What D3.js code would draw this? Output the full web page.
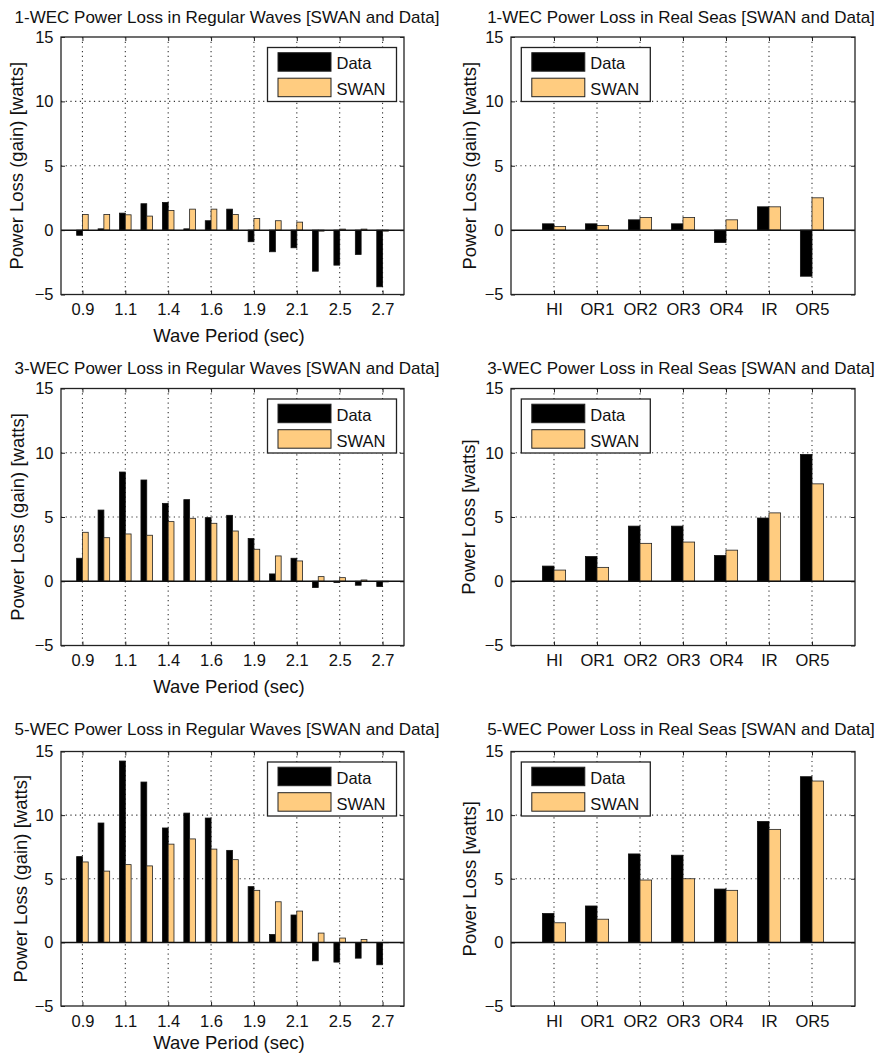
<!DOCTYPE html>
<html><head><meta charset="utf-8">
<script src="https://cdn.jsdelivr.net/npm/d3@7"></script>
<style>
body{margin:0;background:#fff}
svg{display:block}
text{font-family:"Liberation Sans",Arial,Helvetica,sans-serif;fill:#111}
</style>
</head><body>
<svg id="chart" width="884" height="1058"></svg>
<script>
// ---------------- data ----------------
const seriesNames = ["Data", "SWAN"];
// 15 regular-wave periods; only every other one is labelled on the axis
const periodTickLabels = ["0.9","","1.1","","1.4","","1.6","","1.9","","2.1","","2.5","","2.7"];
const seaStates = ["HI","OR1","OR2","OR3","OR4","IR","OR5"];
const yTicks = [-5, 0, 5, 10, 15];

const wec1RegularData = [-0.4, 0.1, 1.32, 2.05, 2.15, 0.1, 0.73, 1.63, -0.9, -1.68, -1.37, -3.19, -2.72, -1.89, -4.4];
const wec1RegularSwan = [1.22, 1.22, 1.19, 1.09, 1.53, 1.63, 1.63, 1.22, 0.9, 0.73, 0.62, -0.08, 0.08, 0.08, -0.08];
const wec3RegularData = [1.79, 5.54, 8.5, 7.88, 6.06, 6.35, 4.95, 5.13, 3.32, 0.57, 1.79, -0.49, -0.1, -0.31, -0.41];
const wec3RegularSwan = [3.81, 3.39, 3.68, 3.58, 4.64, 4.9, 4.51, 3.91, 2.49, 1.97, 1.58, 0.36, 0.28, 0.1, -0.05];
const wec5RegularData = [6.74, 9.38, 14.25, 12.6, 8.99, 10.16, 9.77, 7.23, 4.38, 0.62, 2.15, -1.45, -1.55, -1.24, -1.76];
const wec5RegularSwan = [6.32, 5.6, 6.11, 6.01, 7.72, 8.13, 7.33, 6.5, 4.09, 3.19, 2.46, 0.73, 0.34, 0.23, -0.03];

const wec1SeaData = [0.49, 0.49, 0.8, 0.49, -0.96, 1.81, -3.58];
const wec1SeaSwan = [0.28, 0.36, 0.98, 0.98, 0.8, 1.81, 2.51];
const wec3SeaData = [1.18, 1.92, 4.29, 4.29, 2.0, 4.92, 9.87];
const wec3SeaSwan = [0.87, 1.08, 2.95, 3.05, 2.42, 5.32, 7.58];
const wec5SeaData = [2.27, 2.86, 6.95, 6.85, 4.19, 9.5, 13.02];
const wec5SeaSwan = [1.54, 1.82, 4.9, 5.0, 4.09, 8.88, 12.68];

const titles = [
  ["1-WEC Power Loss in Regular Waves [SWAN and Data]", "1-WEC Power Loss in Real Seas [SWAN and Data]"],
  ["3-WEC Power Loss in Regular Waves [SWAN and Data]", "3-WEC Power Loss in Real Seas [SWAN and Data]"],
  ["5-WEC Power Loss in Regular Waves [SWAN and Data]", "5-WEC Power Loss in Real Seas [SWAN and Data]"]
];
const yLabels = [
  ["Power Loss (gain) [watts]", "Power Loss (gain) [watts]"],
  ["Power Loss (gain) [watts]", "Power Loss [watts]"],
  ["Power Loss (gain) [watts]", "Power Loss [watts]"]
];
const xLabel = "Wave Period (sec)";

// ---------------- layout ----------------
const colors = {data: "#000000", swan: "#FFCC80"};
const rows = [
  {top: 37,    bottom: 294.5, titleY: 22.7,  xlabY: 341.5, ylabX: [17, 470]},
  {top: 388.5, bottom: 645.5, titleY: 374,   xlabY: 693,   ylabX: [17.5, 468.7]},
  {top: 751.5, bottom: 1006,  titleY: 734.5, xlabY: 1049,  ylabX: [21, 469.5]}
];
const cols = [
  {left: 61,  right: 404, titleX: 227},
  {left: 511, right: 855, titleX: 681}
];

const panels = [
  {r:0, c:0, data: wec1RegularData, swan: wec1RegularSwan},
  {r:0, c:1, data: wec1SeaData,     swan: wec1SeaSwan},
  {r:1, c:0, data: wec3RegularData, swan: wec3RegularSwan},
  {r:1, c:1, data: wec3SeaData,     swan: wec3SeaSwan},
  {r:2, c:0, data: wec5RegularData, swan: wec5RegularSwan},
  {r:2, c:1, data: wec5SeaData,     swan: wec5SeaSwan}
];

const svg = d3.select("#chart");

panels.forEach(p => {
  const R = rows[p.r], C = cols[p.c];
  const isReg = p.c === 0;
  const n = isReg ? periodTickLabels.length : seaStates.length;
  const x = d3.scaleLinear().domain([-1, n]).range([C.left, C.right]);
  const y = d3.scaleLinear().domain([-5, 15]).range([R.bottom, R.top]);
  const bw = x(0.27) - x(0);
  const tickIdx = isReg ? d3.range(n).filter(i => periodTickLabels[i] !== "") : d3.range(n);
  const tickText = i => isReg ? periodTickLabels[i] : seaStates[i];

  const g = svg.append("g");

  // grid (below bars)
  const grid = g.append("g").attr("stroke", "#333").attr("stroke-width", 1.1)
    .attr("stroke-dasharray", "1.2,3.5").attr("fill", "none");
  grid.selectAll("line.v").data(tickIdx).join("line")
    .attr("x1", d => x(d)).attr("x2", d => x(d))
    .attr("y1", R.top).attr("y2", R.bottom);
  grid.selectAll("line.h").data(yTicks.filter(t => t !== -5 && t !== 15 && t !== 0)).join("line")
    .attr("x1", C.left).attr("x2", C.right)
    .attr("y1", d => y(d)).attr("y2", d => y(d));

  // axes ticks (inward) on all four sides
  const xb = d3.axisBottom(x).tickValues(tickIdx).tickFormat(tickText)
    .tickSizeInner(-4).tickSizeOuter(0).tickPadding(9);
  const xt = d3.axisTop(x).tickValues(tickIdx).tickFormat("")
    .tickSizeInner(-4).tickSizeOuter(0);
  const yl = d3.axisLeft(y).tickValues(yTicks).tickFormat(d3.format("d"))
    .tickSizeInner(-4).tickSizeOuter(0).tickPadding(7.5);
  const yr = d3.axisRight(y).tickValues(yTicks).tickFormat("")
    .tickSizeInner(-4).tickSizeOuter(0);

  const styleAxis = sel => {
    sel.select(".domain").remove();
    sel.selectAll(".tick line").attr("stroke", "#222").attr("stroke-width", 1);
    sel.selectAll(".tick text").attr("fill", "#111")
      .style("font-family", '"Liberation Sans",Arial,sans-serif').style("font-size", "16.5px");
  };
  g.append("g").attr("transform", `translate(0,${R.bottom})`).call(xb).call(styleAxis);
  g.append("g").attr("transform", `translate(0,${R.top})`).call(xt).call(styleAxis);
  g.append("g").attr("transform", `translate(${C.left},0)`).call(yl).call(styleAxis);
  g.append("g").attr("transform", `translate(${C.right},0)`).call(yr).call(styleAxis);

  // bars
  const idx = d3.range(n);
  g.append("g").selectAll("rect").data(idx).join("rect")
    .attr("x", i => x(i) - bw).attr("width", bw)
    .attr("y", i => y(Math.max(0, p.data[i])))
    .attr("height", i => Math.abs(y(p.data[i]) - y(0)))
    .attr("fill", colors.data).attr("stroke", "#111").attr("stroke-width", 0.8);
  g.append("g").selectAll("rect").data(idx).join("rect")
    .attr("x", i => x(i)).attr("width", bw)
    .attr("y", i => y(Math.max(0, p.swan[i])))
    .attr("height", i => Math.abs(y(p.swan[i]) - y(0)))
    .attr("fill", colors.swan).attr("stroke", "#222").attr("stroke-width", 0.8);

  // zero baseline
  g.append("line").attr("x1", C.left).attr("x2", C.right)
    .attr("y1", y(0)).attr("y2", y(0))
    .attr("stroke", "#111").attr("stroke-width", 1.5);

  // axes box
  g.append("rect").attr("x", C.left).attr("y", R.top)
    .attr("width", C.right - C.left).attr("height", R.bottom - R.top)
    .attr("fill", "none").attr("stroke", "#222").attr("stroke-width", 1.3);

  // legend
  const lgW = 129, lgH = 54;
  const lgX = isReg ? C.right - 136.5 : C.left + 10.3;
  const lgY = R.top + 10.5;
  const lg = g.append("g").attr("transform", `translate(${lgX},${lgY})`);
  lg.append("rect").attr("width", lgW).attr("height", lgH)
    .attr("fill", "#fff").attr("stroke", "#222").attr("stroke-width", 1.3);
  seriesNames.forEach((name, k) => {
    lg.append("rect").attr("x", 10.5).attr("y", 5.2 + k * 25.5)
      .attr("width", 53).attr("height", 18.5)
      .attr("fill", k === 0 ? colors.data : colors.swan)
      .attr("stroke", "#222").attr("stroke-width", 1);
    lg.append("text").attr("x", 69).attr("y", 21.5 + k * 26)
      .style("font-size", "16.5px").text(name);
  });

  // title
  g.append("text").attr("x", C.titleX).attr("y", R.titleY)
    .attr("text-anchor", "middle").style("font-size", "17px").text(titles[p.r][p.c]);

  // y label
  const ylx = R.ylabX[p.c], yly = (R.top + R.bottom) / 2;
  g.append("text").attr("transform", `translate(${ylx},${yly}) rotate(-90)`)
    .attr("text-anchor", "middle").attr("dy", "0.35em")
    .style("font-size", "18.5px").text(yLabels[p.r][p.c]);

  // x label (regular-wave panels only)
  if (isReg) {
    g.append("text").attr("x", 229).attr("y", R.xlabY)
      .attr("text-anchor", "middle").style("font-size", "18.5px").text(xLabel);
  }
});
</script>
</body></html>
